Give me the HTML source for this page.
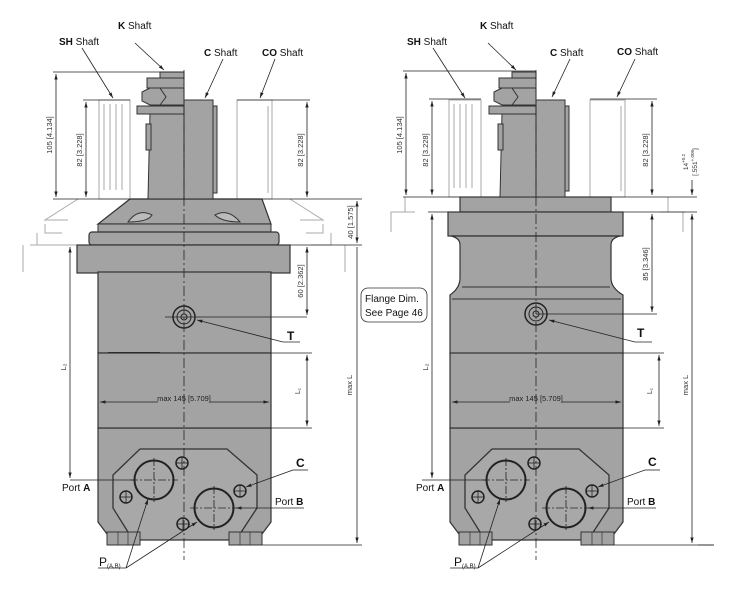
<!DOCTYPE html>
<html><head><meta charset="utf-8"><style>
html,body{margin:0;padding:0;background:#fff;}
svg{display:block;font-family:"Liberation Sans",sans-serif;}
</style></head><body>
<svg width="731" height="594" viewBox="0 0 731 594" xmlns="http://www.w3.org/2000/svg">
<defs>
<marker id="ar" viewBox="0 0 10 10" refX="10" refY="5" markerWidth="7" markerHeight="7" orient="auto-start-reverse"><path d="M0,2 L10,5 L0,8 z" fill="#222"/></marker>
<g id="lower">
  <!-- lower housing -->
  <path d="M98,428 H271 V522 L262,534 H107 L98,522 Z" fill="#a3a3a3" stroke="#333" stroke-width="1.2"/>
  <path d="M140,449 H227 L257,475 V508 L236,540 H133 L113,508 V475 Z" fill="#a8a8a8" stroke="#333" stroke-width="1.3"/>
  <rect x="107" y="532" width="33" height="13" fill="#a3a3a3" stroke="#333"/>
  <rect x="229" y="532" width="33" height="13" fill="#a3a3a3" stroke="#333"/>
  <line x1="118" y1="532" x2="118" y2="545" stroke="#333" stroke-width=".7"/><line x1="128" y1="532" x2="128" y2="545" stroke="#333" stroke-width=".7"/>
  <line x1="240" y1="532" x2="240" y2="545" stroke="#333" stroke-width=".7"/><line x1="250" y1="532" x2="250" y2="545" stroke="#333" stroke-width=".7"/>
  <circle cx="154" cy="480" r="19.5" fill="#a8a8a8" stroke="#222" stroke-width="2"/>
  <circle cx="214" cy="508" r="19.5" fill="#a8a8a8" stroke="#222" stroke-width="2"/>
  <g fill="#a8a8a8" stroke="#222" stroke-width="1.5">
    <circle cx="182" cy="463" r="6"/><circle cx="126" cy="497" r="6"/><circle cx="240" cy="491" r="6"/><circle cx="183" cy="524" r="6"/>
  </g>
  <g stroke="#222" stroke-width=".8">
    <line x1="176" y1="463" x2="188" y2="463"/><line x1="182" y1="457" x2="182" y2="469"/>
    <line x1="120" y1="497" x2="132" y2="497"/><line x1="126" y1="491" x2="126" y2="503"/>
    <line x1="234" y1="491" x2="246" y2="491"/><line x1="240" y1="485" x2="240" y2="497"/>
    <line x1="177" y1="524" x2="189" y2="524"/><line x1="183" y1="518" x2="183" y2="530"/>
    <line x1="130" y1="480" x2="178" y2="480" stroke-dasharray="8,2,2,2"/><line x1="154" y1="458" x2="154" y2="502" stroke-dasharray="8,2,2,2"/>
    <line x1="190" y1="508" x2="238" y2="508" stroke-dasharray="8,2,2,2"/><line x1="214" y1="486" x2="214" y2="530" stroke-dasharray="8,2,2,2"/>
  </g>
  <!-- middle -->
  <rect x="98" y="353" width="173" height="75" fill="#a3a3a3" stroke="#333" stroke-width="1.2"/>
  <!-- dims -->
  <line x1="100" y1="402" x2="269" y2="402" stroke="#222" stroke-width=".8" marker-start="url(#ar)" marker-end="url(#ar)"/>
  <rect x="158" y="395" width="52" height="9" fill="#a3a3a3"/>
  <text x="184" y="401" font-size="7.5" text-anchor="middle" fill="#222">max 145 [5.709]</text>
  <line x1="307" y1="355" x2="307" y2="426" stroke="#222" stroke-width=".8" marker-start="url(#ar)" marker-end="url(#ar)"/>
  <line x1="271" y1="353" x2="312" y2="353" stroke="#222" stroke-width=".7"/>
  <line x1="271" y1="428" x2="312" y2="428" stroke="#222" stroke-width=".7"/>
  <text transform="translate(300,391) rotate(-90)" font-size="7" text-anchor="middle" fill="#333">L₁</text>
  <!-- ports leaders -->
  <line x1="70" y1="480" x2="134" y2="480" stroke="#222" stroke-width=".8"/>
  <line x1="236" y1="508" x2="270" y2="508" stroke="#222" stroke-width=".8" marker-start="url(#ar)"/>
  <line x1="270" y1="508" x2="304" y2="508" stroke="#222" stroke-width=".8"/>
  <line x1="246" y1="487" x2="293" y2="470" stroke="#222" stroke-width=".8" marker-start="url(#ar)"/>
  <line x1="293" y1="470" x2="308" y2="470" stroke="#222" stroke-width=".8"/>
  <line x1="148" y1="499" x2="126" y2="568" stroke="#222" stroke-width=".8" marker-start="url(#ar)"/>
  <line x1="197" y1="522" x2="126" y2="568" stroke="#222" stroke-width=".8" marker-start="url(#ar)"/>
  <line x1="98" y1="568" x2="126" y2="568" stroke="#222" stroke-width=".8"/>
  <!-- T port -->
  <line x1="197" y1="320" x2="283" y2="342" stroke="#222" stroke-width=".8" marker-start="url(#ar)"/>
  <line x1="283" y1="342" x2="300" y2="342" stroke="#222" stroke-width=".8"/>
  <!-- max L bottom -->
  <line x1="262" y1="545" x2="362" y2="545" stroke="#222" stroke-width=".7"/>
</g>
</defs>

<!-- ================= LEFT ================= -->
<!-- faint outlines -->
<g fill="none" stroke="#aaa" stroke-width="1">
  <path d="M78,199 L45,220 H68 M45,224 V233 H62 M37,233 V245 H57 M23,245 V272"/>
  <path d="M290,199 L323,220 H300 M323,224 V233 H306 M331,233 V245 H311 M345,245 V272"/>
  <rect x="99" y="100" width="31" height="99"/>
  <path d="M104,104 V190 M110,104 V190 M116,104 V190 M122,104 V190"/>
  <rect x="237" y="100" width="35" height="99"/>
  <line x1="268" y1="106" x2="268" y2="193"/>
</g>
<line x1="30" y1="245" x2="77" y2="245" stroke="#aaa"/>
<!-- flange -->
<path d="M130,199 H262 L271,224 H98 Z" fill="#a3a3a3" stroke="#333" stroke-width="1.2"/>
<path d="M128,222 Q138,208 152,215 Q148,222 128,222Z M215,215 Q228,208 240,222 Q222,222 215,215Z" fill="#bbb" stroke="#333"/>
<rect x="98" y="224" width="173" height="8" fill="#a3a3a3" stroke="#333"/>
<rect x="89" y="232" width="190" height="13" rx="3" fill="#a3a3a3" stroke="#333" stroke-width="1.2"/>
<rect x="77" y="245" width="213" height="28" fill="#a3a3a3" stroke="#333" stroke-width="1.2"/>
<rect x="98" y="272" width="173" height="81" fill="#a3a3a3" stroke="#333" stroke-width="1.2"/>
<line x1="108" y1="353" x2="160" y2="353" stroke="#222" stroke-width="2"/>
<!-- shafts -->
<rect x="184" y="100" width="29" height="99" fill="#a3a3a3" stroke="#333"/>
<rect x="213" y="106" width="4" height="87" fill="#a3a3a3" stroke="#333"/>
<path d="M150,113 H184 V199 H148 Z" fill="#a3a3a3" stroke="#333"/>
<rect x="146" y="124" width="5" height="26" fill="#a3a3a3" stroke="#333"/>
<rect x="137" y="106" width="47" height="8" fill="#a3a3a3" stroke="#333"/>
<path d="M142,92 L150,88 H184 V105 H150 L142,101 Z M160,88 L166,97 L160,105" fill="#a3a3a3" stroke="#333"/>
<rect x="147" y="78" width="37" height="10" fill="#a3a3a3" stroke="#333"/>
<rect x="160" y="72" width="24" height="6" fill="#a3a3a3" stroke="#333"/>
<!-- T -->
<circle cx="184" cy="317" r="11" fill="#a3a3a3" stroke="#222" stroke-width="1.5"/>
<circle cx="184" cy="317" r="7" fill="none" stroke="#222"/>
<circle cx="184" cy="317" r="3" fill="none" stroke="#222"/>
<line x1="165" y1="317" x2="307" y2="317" stroke="#222" stroke-width=".7"/>
<use href="#lower"/>
<line x1="184" y1="70" x2="184" y2="560" stroke="#222" stroke-width=".8" stroke-dasharray="10,3,2,3"/>
<!-- dims -->
<g stroke="#222" stroke-width=".8" fill="none">
  <line x1="53" y1="72" x2="184" y2="72"/>
  <line x1="53" y1="199" x2="362" y2="199"/>
  <line x1="83" y1="100" x2="130" y2="100"/>
  <line x1="237" y1="100" x2="310" y2="100"/>
  <line x1="290" y1="245" x2="362" y2="245"/>
  <line x1="56" y1="74" x2="56" y2="197" marker-start="url(#ar)" marker-end="url(#ar)"/>
  <line x1="86" y1="102" x2="86" y2="197" marker-start="url(#ar)" marker-end="url(#ar)"/>
  <line x1="307" y1="102" x2="307" y2="197" marker-start="url(#ar)" marker-end="url(#ar)"/>
  <line x1="357" y1="201" x2="357" y2="243" marker-start="url(#ar)" marker-end="url(#ar)"/>
  <line x1="357" y1="247" x2="357" y2="543" marker-end="url(#ar)"/>
  <line x1="307" y1="247" x2="307" y2="315" marker-start="url(#ar)" marker-end="url(#ar)"/>
  <line x1="70" y1="247" x2="70" y2="478" marker-start="url(#ar)" marker-end="url(#ar)"/>
  <line x1="135" y1="43" x2="164" y2="70" marker-end="url(#ar)"/>
  <line x1="82" y1="48" x2="113" y2="98" marker-end="url(#ar)"/>
  <line x1="223" y1="59" x2="205" y2="98" marker-end="url(#ar)"/>
  <line x1="275" y1="59" x2="260" y2="98" marker-end="url(#ar)"/>
</g>
<g font-size="7.5" fill="#333" text-anchor="middle">
<text transform="translate(52,135) rotate(-90)">105 [4.134]</text>
<text transform="translate(82,150) rotate(-90)">82 [3.228]</text>
<text transform="translate(303,150) rotate(-90)">82 [3.228]</text>
<text transform="translate(353,222) rotate(-90)">40 [1.575]</text>
<text transform="translate(303,281) rotate(-90)">60 [2.362]</text>
<text transform="translate(352,385) rotate(-90)">max L</text>
<text transform="translate(66,367) rotate(-90)">L₂</text>
</g>
<g font-size="10" fill="#111">
<text x="118" y="29"><tspan font-weight="bold">K</tspan> Shaft</text>
<text x="59" y="45"><tspan font-weight="bold">SH</tspan> Shaft</text>
<text x="204" y="56"><tspan font-weight="bold">C</tspan> Shaft</text>
<text x="262" y="56"><tspan font-weight="bold">CO</tspan> Shaft</text>
<text x="287" y="340" font-size="12" font-weight="bold">T</text>
<text x="296" y="467" font-size="12" font-weight="bold">C</text>
<text x="62" y="491">Port <tspan font-weight="bold">A</tspan></text>
<text x="275" y="505">Port <tspan font-weight="bold">B</tspan></text>
<text x="99" y="566" font-size="12">P<tspan font-size="6" dy="2">(A,B)</tspan></text>
</g>

<!-- ================= RIGHT ================= -->
<g fill="none" stroke="#aaa" stroke-width="1">
  <path d="M405,197 V212 H391 V232 M392,212 H415"/>
  <path d="M668,197 V212 H682 M683,212 V232 M660,212 H685"/>
  <rect x="449" y="100" width="32" height="97"/>
  <path d="M454,104 V188 M460,104 V188 M466,104 V188 M472,104 V188"/>
  <rect x="590" y="100" width="35" height="97"/>
  <line x1="621" y1="106" x2="621" y2="191"/>
</g>
<rect x="460" y="197" width="151" height="15" fill="#a3a3a3" stroke="#333" stroke-width="1.2"/>
<rect x="448" y="212" width="175" height="24" fill="#a3a3a3" stroke="#333" stroke-width="1.2"/>
<path d="M451,236 Q460,238 460,245 V278 Q460,288 450,295 V354 H623 V295 Q611,288 611,278 V245 Q611,238 620,236 Z" fill="#a3a3a3" stroke="#333" stroke-width="1.2"/>
<line x1="462" y1="287" x2="610" y2="287" stroke="#333"/>
<line x1="452" y1="299" x2="621" y2="299" stroke="#333"/>
<rect x="536" y="100" width="29" height="97" fill="#a3a3a3" stroke="#333"/>
<rect x="565" y="106" width="4" height="85" fill="#a3a3a3" stroke="#333"/>
<path d="M502,113 H536 V197 H500 Z" fill="#a3a3a3" stroke="#333"/>
<rect x="498" y="124" width="5" height="26" fill="#a3a3a3" stroke="#333"/>
<rect x="489" y="106" width="47" height="8" fill="#a3a3a3" stroke="#333"/>
<path d="M494,92 L502,88 H536 V105 H502 L494,101 Z M512,88 L518,97 L512,105" fill="#a3a3a3" stroke="#333"/>
<rect x="499" y="78" width="37" height="10" fill="#a3a3a3" stroke="#333"/>
<rect x="512" y="72" width="24" height="6" fill="#a3a3a3" stroke="#333"/>
<circle cx="536" cy="314" r="11" fill="#a3a3a3" stroke="#222" stroke-width="1.5"/>
<circle cx="536" cy="314" r="7" fill="none" stroke="#222"/>
<circle cx="536" cy="314" r="3" fill="none" stroke="#222"/>
<line x1="536" y1="314" x2="657" y2="314" stroke="#222" stroke-width=".7"/>
<g transform="translate(352,0)"><use href="#lower"/></g>
<line x1="536" y1="70" x2="536" y2="560" stroke="#222" stroke-width=".8" stroke-dasharray="10,3,2,3"/>
<g stroke="#222" stroke-width=".8" fill="none">
  <line x1="403" y1="71" x2="536" y2="71"/>
  <line x1="403" y1="197" x2="460" y2="197"/>
  <line x1="611" y1="197" x2="697" y2="197"/>
  <line x1="428" y1="212" x2="448" y2="212"/>
  <line x1="623" y1="212" x2="697" y2="212"/>
  <line x1="429" y1="99" x2="481" y2="99"/>
  <line x1="590" y1="99" x2="657" y2="99"/>
  <line x1="406" y1="73" x2="406" y2="195" marker-start="url(#ar)" marker-end="url(#ar)"/>
  <line x1="432" y1="101" x2="432" y2="195" marker-start="url(#ar)" marker-end="url(#ar)"/>
  <line x1="652" y1="101" x2="652" y2="195" marker-start="url(#ar)" marker-end="url(#ar)"/>
  <line x1="692" y1="180" x2="692" y2="195" marker-end="url(#ar)"/>
  <line x1="692" y1="214" x2="692" y2="543" marker-start="url(#ar)" marker-end="url(#ar)"/>
  <line x1="652" y1="214" x2="652" y2="312" marker-start="url(#ar)" marker-end="url(#ar)"/>
  <line x1="432" y1="214" x2="432" y2="478" marker-start="url(#ar)" marker-end="url(#ar)"/>
  <line x1="698" y1="545" x2="714" y2="545"/>
  <line x1="488" y1="43" x2="516" y2="70" marker-end="url(#ar)"/>
  <line x1="433" y1="48" x2="465" y2="98" marker-end="url(#ar)"/>
  <line x1="570" y1="59" x2="552" y2="97" marker-end="url(#ar)"/>
  <line x1="635" y1="59" x2="617" y2="97" marker-end="url(#ar)"/>
  <rect x="361" y="288" width="66" height="34" rx="7" stroke="#333"/>
</g>
<g font-size="7.5" fill="#333" text-anchor="middle">
<text transform="translate(402,135) rotate(-90)">105 [4.134]</text>
<text transform="translate(428,150) rotate(-90)">82 [3.228]</text>
<text transform="translate(648,150) rotate(-90)">82 [3.228]</text>
<text transform="translate(648,264) rotate(-90)">85 [3.346]</text>
<text transform="translate(688,385) rotate(-90)">max L</text>
<text transform="translate(428,367) rotate(-90)">L₂</text>
<text transform="translate(688,162) rotate(-90)" font-size="6.5">14<tspan font-size="4.5" dy="-3">+0.2</tspan></text>
<text transform="translate(697,162) rotate(-90)" font-size="6.5">[.551<tspan font-size="4.5" dy="-3">+.008</tspan><tspan dy="3">]</tspan></text>
</g>
<g font-size="10" fill="#111">
<text x="480" y="29"><tspan font-weight="bold">K</tspan> Shaft</text>
<text x="407" y="45"><tspan font-weight="bold">SH</tspan> Shaft</text>
<text x="550" y="56"><tspan font-weight="bold">C</tspan> Shaft</text>
<text x="617" y="55"><tspan font-weight="bold">CO</tspan> Shaft</text>
<text x="637" y="337" font-size="12" font-weight="bold">T</text>
<text x="648" y="466" font-size="12" font-weight="bold">C</text>
<text x="416" y="491">Port <tspan font-weight="bold">A</tspan></text>
<text x="627" y="505">Port <tspan font-weight="bold">B</tspan></text>
<text x="454" y="566" font-size="12">P<tspan font-size="6" dy="2">(A,B)</tspan></text>
<text x="365" y="302">Flange Dim.</text>
<text x="365" y="316">See Page 46</text>
</g>
</svg>
</body></html>
